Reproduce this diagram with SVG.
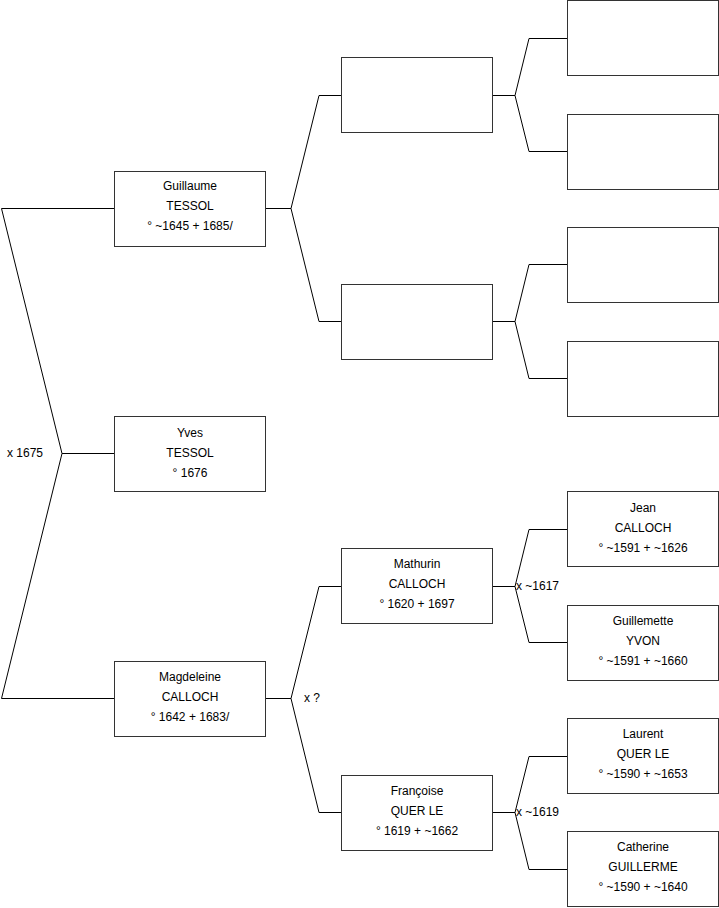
<svg xmlns="http://www.w3.org/2000/svg" width="719" height="908" viewBox="0 0 719 908">
<style>
.b{fill:#fff;stroke:#333;stroke-width:1}
.t{font-family:"Liberation Sans",Arial,sans-serif;font-size:12px;fill:#000;text-anchor:middle}
.l{font-family:"Liberation Sans",Arial,sans-serif;font-size:12px;fill:#000}
.c{fill:none;stroke:#000;stroke-width:1}
</style>
<rect width="719" height="908" fill="#fff"/>
<g id="connectors">
<polyline class="c" points="114,208.5 1.5,208.5 62,453.5 1.5,698.5 114,698.5"/>
<line class="c" x1="62" y1="453.5" x2="114" y2="453.5"/>
<polyline class="c" points="341,95.5 319,95.5 291,208.5 319,321.5 341,321.5"/>
<line class="c" x1="265" y1="208.5" x2="291" y2="208.5"/>
<polyline class="c" points="567,38.5 529,38.5 515,95.5 529,151.5 567,151.5"/>
<line class="c" x1="492" y1="95.5" x2="515" y2="95.5"/>
<polyline class="c" points="567,264.5 529,264.5 515,321.5 529,378.5 567,378.5"/>
<line class="c" x1="492" y1="321.5" x2="515" y2="321.5"/>
<polyline class="c" points="341,586.5 319,586.5 291,698.5 319,812.5 341,812.5"/>
<line class="c" x1="265" y1="698.5" x2="291" y2="698.5"/>
<polyline class="c" points="567,529.5 529,529.5 515,586.5 529,642.5 567,642.5"/>
<line class="c" x1="492" y1="586.5" x2="515" y2="586.5"/>
<polyline class="c" points="567,756.5 529,756.5 515,812.5 529,869.5 567,869.5"/>
<line class="c" x1="492" y1="812.5" x2="515" y2="812.5"/>
<text class="l" x="7" y="457">x 1675</text>
<text class="l" x="304" y="702">x ?</text>
<text class="l" x="516" y="590">x ~1617</text>
<text class="l" x="516" y="816">x ~1619</text>
</g>
<g id="guillaume"><rect class="b" x="114.5" y="171.5" width="151" height="75"/><text class="t" x="190" y="190">Guillaume</text><text class="t" x="190" y="210">TESSOL</text><text class="t" x="190" y="230">° ~1645 + 1685/</text></g>
<g id="yves"><rect class="b" x="114.5" y="416.5" width="151" height="75"/><text class="t" x="190" y="437">Yves</text><text class="t" x="190" y="457">TESSOL</text><text class="t" x="190" y="477">° 1676</text></g>
<g id="magdeleine"><rect class="b" x="114.5" y="661.5" width="151" height="75"/><text class="t" x="190" y="681">Magdeleine</text><text class="t" x="190" y="701">CALLOCH</text><text class="t" x="190" y="721">° 1642 + 1683/</text></g>
<g id="g2a"><rect class="b" x="341.5" y="57.5" width="151" height="75"/></g>
<g id="g2b"><rect class="b" x="341.5" y="284.5" width="151" height="75"/></g>
<g id="mathurin"><rect class="b" x="341.5" y="548.5" width="151" height="75"/><text class="t" x="417" y="568">Mathurin</text><text class="t" x="417" y="588">CALLOCH</text><text class="t" x="417" y="608">° 1620 + 1697</text></g>
<g id="francoise"><rect class="b" x="341.5" y="775.5" width="151" height="75"/><text class="t" x="417" y="795">Françoise</text><text class="t" x="417" y="815">QUER LE</text><text class="t" x="417" y="835">° 1619 + ~1662</text></g>
<g id="g3a"><rect class="b" x="567.5" y="0.5" width="151" height="75"/></g>
<g id="g3b"><rect class="b" x="567.5" y="114.5" width="151" height="75"/></g>
<g id="g3c"><rect class="b" x="567.5" y="227.5" width="151" height="75"/></g>
<g id="g3d"><rect class="b" x="567.5" y="341.5" width="151" height="75"/></g>
<g id="jean"><rect class="b" x="567.5" y="491.5" width="151" height="75"/><text class="t" x="643" y="512">Jean</text><text class="t" x="643" y="532">CALLOCH</text><text class="t" x="643" y="552">° ~1591 + ~1626</text></g>
<g id="guillemette"><rect class="b" x="567.5" y="605.5" width="151" height="75"/><text class="t" x="643" y="625">Guillemette</text><text class="t" x="643" y="645">YVON</text><text class="t" x="643" y="665">° ~1591 + ~1660</text></g>
<g id="laurent"><rect class="b" x="567.5" y="718.5" width="151" height="75"/><text class="t" x="643" y="738">Laurent</text><text class="t" x="643" y="758">QUER LE</text><text class="t" x="643" y="778">° ~1590 + ~1653</text></g>
<g id="catherine"><rect class="b" x="567.5" y="831.5" width="151" height="75"/><text class="t" x="643" y="851">Catherine</text><text class="t" x="643" y="871">GUILLERME</text><text class="t" x="643" y="891">° ~1590 + ~1640</text></g>
</svg>
